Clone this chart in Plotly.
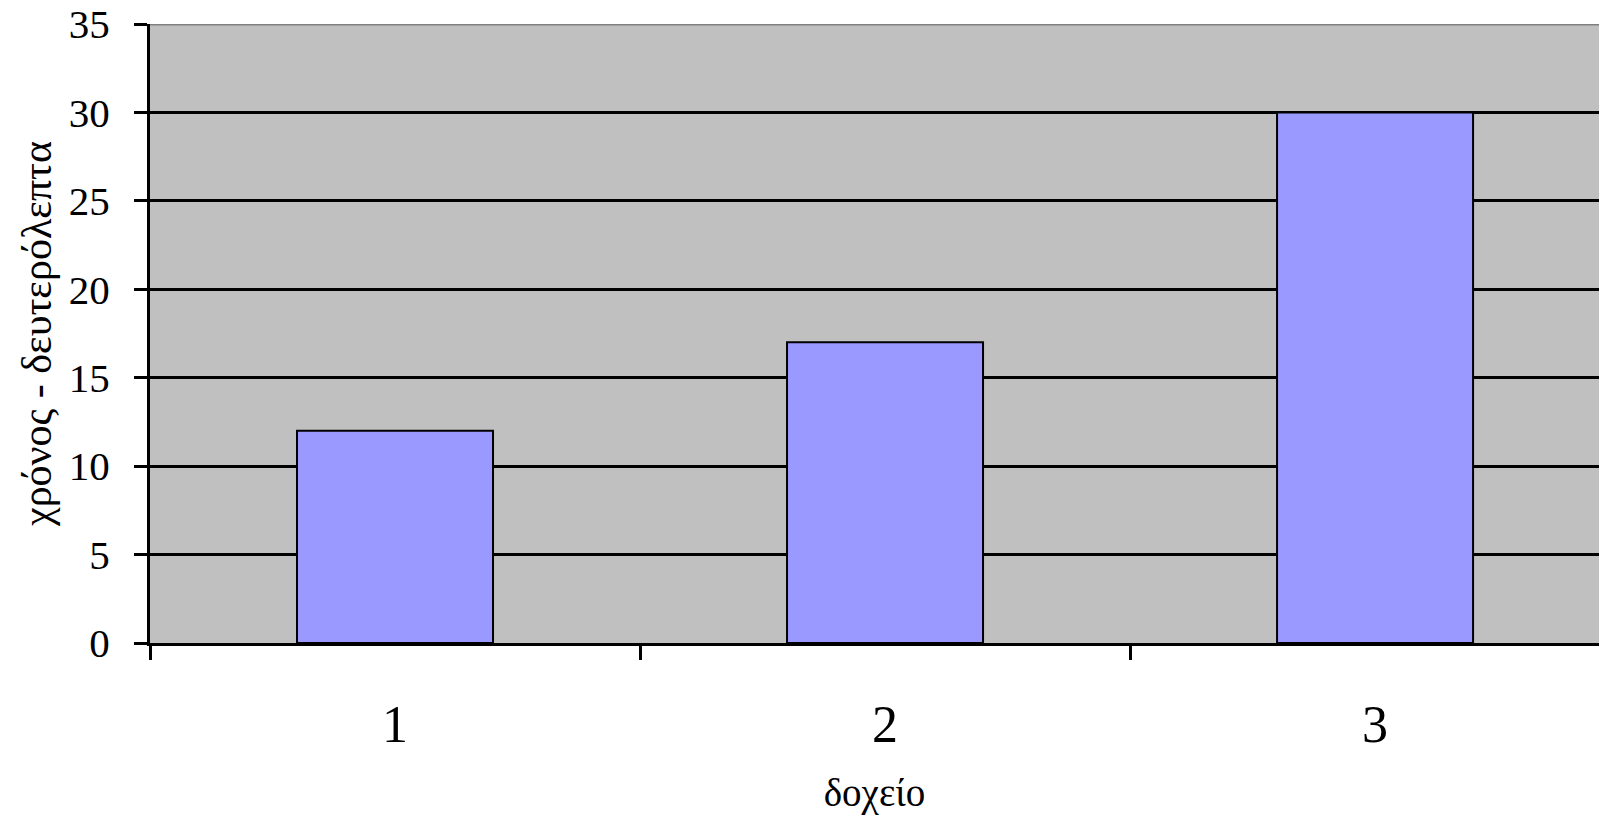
import plotly.graph_objects as go

categories = ["1", "2", "3"]
values = [12, 17, 30]
y_ticks = [0, 5, 10, 15, 20, 25, 30, 35]
x_title = "δοχείο"
y_title = "χρόνος - δευτερόλεπτα"

FONT = "Liberation Serif"
TITLE_FONT = "Liberation Serif, DejaVu Serif, serif"

fig = go.Figure(go.Bar(
    x=categories, y=values,
    marker=dict(color="#9999FF", line=dict(color="black", width=2)),
    width=0.4,
))

fig.update_layout(
    width=1599, height=816,
    margin=dict(l=150, r=0, t=24, b=173),
    paper_bgcolor="white", plot_bgcolor="#C0C0C0",
    showlegend=False,
    font=dict(family=FONT, color="black"),
)

fig.update_xaxes(
    type="category", range=[-0.5, 2.457],
    showline=True, linecolor="black", linewidth=3,
    ticks="outside", tickson="boundaries", ticklen=14, tickwidth=3, tickcolor="black",
    showgrid=False,
    tickfont=dict(size=52, family=FONT),
    ticklabelstandoff=34,
    title=dict(text=x_title, font=dict(size=39, family=TITLE_FONT), standoff=27),
)

fig.update_yaxes(
    range=[0, 35], tickvals=y_ticks,
    showline=True, linecolor="black", linewidth=3,
    ticks="outside", ticklen=13, tickwidth=3, tickcolor="black",
    showgrid=True, gridcolor="black", gridwidth=2.5,
    zeroline=False,
    tickfont=dict(size=41, family=FONT),
    ticklabelstandoff=16,
    title=dict(text=y_title, font=dict(size=42, family=TITLE_FONT), standoff=5),
)

fig.add_shape(type="line", xref="paper", yref="y", x0=0, x1=1, y0=35, y1=35,
              line=dict(color="#808080", width=3), layer="above")

fig.write_html("out.html", config={"displayModeBar": False},
               post_script="document.body.style.margin='0';document.body.style.overflow='hidden';")
